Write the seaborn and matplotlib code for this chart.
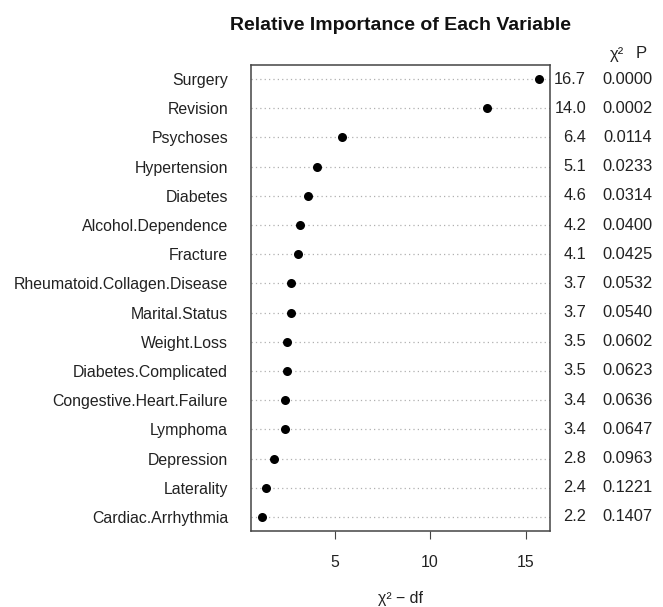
import matplotlib
matplotlib.use("Agg")
import matplotlib.pyplot as plt
import seaborn as sns
import pandas as pd

# values
variables = ["Surgery", "Revision", "Psychoses", "Hypertension", "Diabetes",
             "Alcohol.Dependence", "Fracture", "Rheumatoid.Collagen.Disease",
             "Marital.Status", "Weight.Loss", "Diabetes.Complicated",
             "Congestive.Heart.Failure", "Lymphoma", "Depression",
             "Laterality", "Cardiac.Arrhythmia"]
chi2 = [16.7, 14.0, 6.4, 5.1, 4.6, 4.2, 4.1, 3.7, 3.7, 3.5, 3.5, 3.4, 3.4, 2.8, 2.4, 2.2]
df_vals = [1] * 16
pvals = ["0.0000", "0.0002", "0.0114", "0.0233", "0.0314", "0.0400", "0.0425", "0.0532",
         "0.0540", "0.0602", "0.0623", "0.0636", "0.0647", "0.0963", "0.1221", "0.1407"]
xticks = [5, 10, 15]


def main():
    sns.set_style("white")
    plt.rcParams["font.family"] = ["Liberation Sans", "DejaVu Sans"]
    fs = 11.4
    txt = "#222222"

    data = pd.DataFrame({"variable": variables, "chi2": chi2, "df": df_vals})
    data["chi2_df"] = data["chi2"] - data["df"]

    fig = plt.figure(figsize=(6.63, 6.07), dpi=100)
    ax = fig.add_axes([251 / 663, 1 - 531 / 607, 299 / 663, 466 / 607])

    # dotted guide lines
    for i in range(len(variables)):
        ax.axhline(i, color="#b0b0b0", linestyle=(0, (1, 2.5)), linewidth=0.9, zorder=0)

    sns.stripplot(data=data, x="chi2_df", y="variable", order=variables,
                  jitter=False, color="black", size=6.5, ax=ax, zorder=3)

    ax.set_xlim(0.62, 16.28)
    ax.set_ylim(15.48, -0.48)
    ax.set_xticks(xticks)
    ax.set_xticklabels([str(t) for t in xticks], fontsize=fs, color=txt)
    ax.tick_params(axis="x", direction="out", length=6, width=0.8, color="#444444",
                   bottom=True, pad=11.5)
    ax.tick_params(axis="y", length=0, pad=16.5, labelsize=fs, labelcolor=txt)
    ax.set_ylabel("")
    ax.set_xlabel("χ² − df", fontsize=fs, color=txt, labelpad=15)

    for s in ax.spines.values():
        s.set_visible(True)
        s.set_color("#444444")
        s.set_linewidth(1.1)

    # chi-square and P columns
    tr = ax.get_yaxis_transform()
    for i, (c, p) in enumerate(zip(chi2, pvals)):
        ax.text(1.121, i, f"{c:.1f}", transform=tr, ha="right", va="center",
                fontsize=fs + 0.4, color=txt, clip_on=False)
        ax.text(1.342, i, p, transform=tr, ha="right", va="center",
                fontsize=fs + 0.4, color=txt, clip_on=False)
    fig.text(617 / 663, 1 - 54 / 607, "χ²", ha="center", va="center",
             fontsize=fs + 0.6, color=txt)
    fig.text(641 / 663, 1 - 54 / 607, "P", ha="center", va="center",
             fontsize=fs + 0.6, color=txt)

    fig.text(401 / 663, 1 - 26 / 607, "Relative Importance of Each Variable",
             ha="center", va="center", fontsize=14, fontweight="bold", color="#111111")

    fig.savefig("out.png", dpi=100)


if __name__ == "__main__":
    main()
